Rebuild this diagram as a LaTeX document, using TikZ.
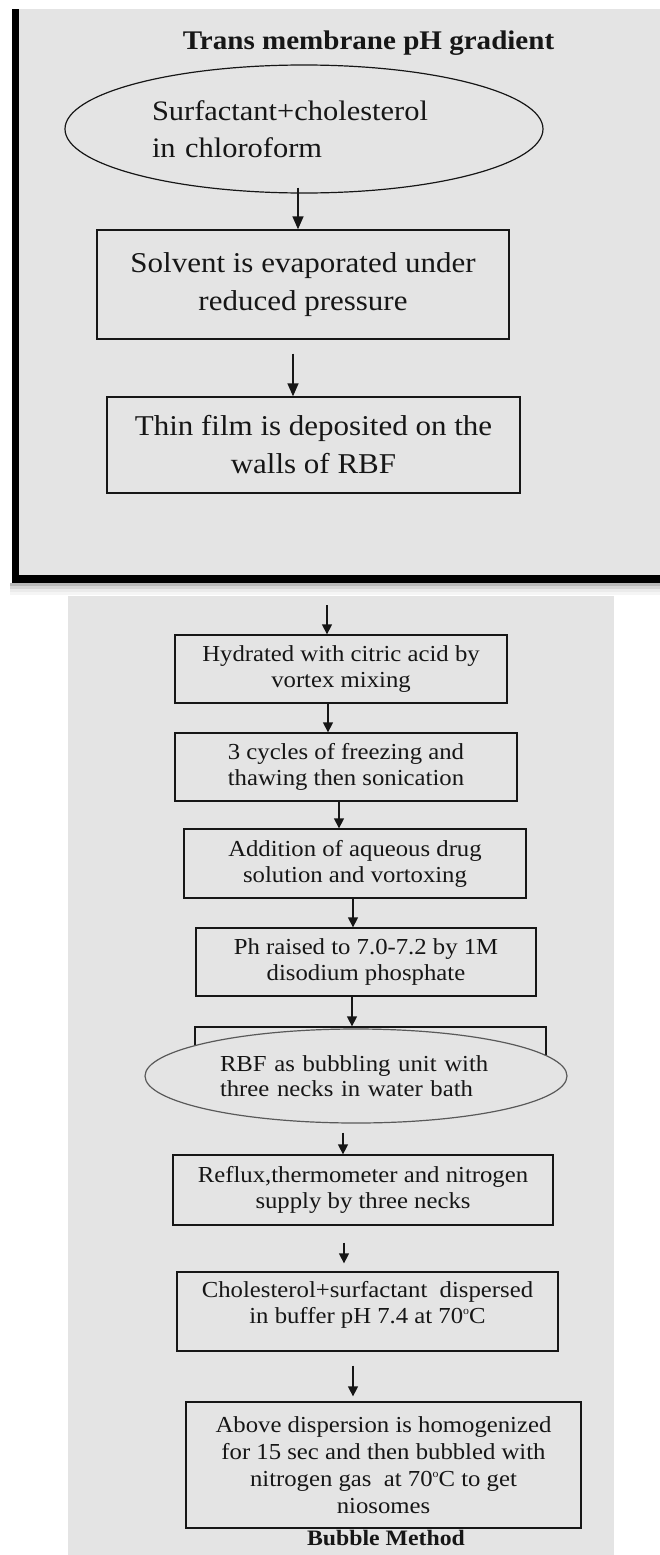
\documentclass[tikz,border=0pt]{standalone}
\usepackage{fontspec}
\setmainfont{Liberation Serif}[FakeStretch=1.08]
\usetikzlibrary{shapes.geometric,arrows.meta}
\definecolor{panelgray}{RGB}{228,228,228}
\definecolor{inkc}{RGB}{22,22,22}
\newcommand{\degsup}{\raisebox{0.85ex}{\fontsize{11}{11}\selectfont o}}
\begin{document}
\begin{tikzpicture}[x=1pt,y=-1pt,
  topbox/.style={draw=inkc, line width=1.4pt, fill=panelgray, text=inkc, align=center, inner sep=0pt, font=\fontsize{28.7}{38}\selectfont},
  botbox/.style={draw=inkc, line width=1.3pt, fill=panelgray, text=inkc, align=center, inner sep=0pt, font=\fontsize{22.9}{26}\selectfont},
  toparr/.style={-{Triangle[length=13pt,width=11pt]}, line width=1.5pt, draw=inkc},
  arr/.style={-{Triangle[length=10pt,width=10pt]}, line width=1.3pt, draw=inkc}]
\useasboundingbox (0,0) rectangle (660,1555);
% top panel
\fill[panelgray] (12,9) rectangle (660,583);
\fill[black,opacity=0.28] (10,583) rectangle (660,586);
\fill[black,opacity=0.16] (10,586) rectangle (660,589);
\fill[black,opacity=0.08] (10,589) rectangle (660,592);
\fill[black,opacity=0.04] (10,592) rectangle (660,595);
\fill[black] (12,9) rectangle (19,583);
\fill[black] (12,575) rectangle (660,583);
% bottom panel
\fill[panelgray] (68,596) rectangle (614,1555);

\node[font=\bfseries\fontsize{26.9}{32}\selectfont, text=inkc, anchor=base] (title) at (368.5,50) {Trans membrane pH gradient};

\node[ellipse, draw=inkc, line width=1.2pt, minimum width=478pt, minimum height=128pt, text width=304pt, align=left, inner sep=0pt, text=inkc, font=\fontsize{28.2}{37}\selectfont] (e1) at (304,129) {Surfactant+cholesterol\\in chloroform};

\node[topbox, minimum width=412pt, minimum height=109pt] (b1) at (303,284.5) {Solvent is evaporated under\\reduced pressure};
\node[topbox, minimum width=413pt, minimum height=96pt] (b2) at (313.5,445) {Thin film is deposited on the\\walls of RBF};

\draw[toparr] ([xshift=-6pt,yshift=6pt]e1.south) -- ([xshift=-5pt]b1.north);
\draw[toparr] ([xshift=-10pt,yshift=-14pt]b1.south) -- ([xshift=-20.5pt]b2.north);

% bottom flow
\node[botbox, minimum width=332pt, minimum height=68pt] (b3) at (341,669) {Hydrated with citric acid by\\vortex mixing};
\node[botbox, minimum width=342pt, minimum height=68pt] (b4) at (346,767) {3 cycles of freezing and\\thawing then sonication};
\node[botbox, minimum width=342pt, minimum height=69pt] (b5) at (355,863.5) {Addition of aqueous drug\\solution and vortoxing};
\node[botbox, minimum width=340pt, minimum height=68pt] (b6) at (366,962) {Ph raised to 7.0-7.2 by 1M\\disodium phosphate};
\node[botbox, minimum width=351pt, minimum height=68pt] (b7) at (370.5,1061) {};
\node[ellipse, draw=black!65, line width=1.2pt, fill=panelgray, minimum width=422pt, minimum height=94pt, text width=272pt, align=left, inner sep=0pt, text=inkc, font=\fontsize{22.9}{25}\selectfont] (e2) at (356,1076) {RBF as bubbling unit with\\three necks in water bath};
\node[botbox, minimum width=380pt, minimum height=70pt] (b8) at (363,1190) {Reflux,thermometer and nitrogen\\supply by three necks};
\node[botbox, minimum width=381pt, minimum height=79pt] (b9) at (367.5,1311.5) {};
\node[text=inkc, align=center, inner sep=0pt, font=\fontsize{22.9}{26}\selectfont] (b9t) at (367.5,1305) {Cholesterol+surfactant~ dispersed\\in buffer pH 7.4 at 70\degsup C};
\node[botbox, minimum width=395pt, minimum height=126pt, font=\fontsize{22.9}{27}\selectfont] (b10) at (383.5,1465) {Above dispersion is homogenized\\for 15 sec and then bubbled with\\nitrogen gas~ at 70\degsup C to get\\niosomes};
\node[font=\bfseries\fontsize{22}{26}\selectfont, text=inkc, anchor=base] (cap) at (386,1545) {Bubble Method};

\coordinate (c0) at (327,605);
\draw[arr] (c0) -- ([xshift=-14pt]b3.north);
\draw[arr] ([xshift=-13pt]b3.south) -- ([xshift=-18pt]b4.north);
\draw[arr] ([xshift=-7pt]b4.south) -- ([xshift=-16pt]b5.north);
\draw[arr] ([xshift=-2pt]b5.south) -- ([xshift=-13pt]b6.north);
\draw[arr] ([xshift=-14pt]b6.south) -- ([xshift=-18.5pt]b7.north);
\draw[arr] ([xshift=-13pt,yshift=-9pt]e2.south) -- ([xshift=-20pt]b8.north);
\draw[arr] ([xshift=-19pt,yshift=-17pt]b8.south) -- ([xshift=-23.5pt,yshift=8pt]b9.north);
\draw[arr] ([xshift=-14.5pt,yshift=-14pt]b9.south) -- ([xshift=-30.5pt,yshift=5pt]b10.north);
\end{tikzpicture}
\end{document}
